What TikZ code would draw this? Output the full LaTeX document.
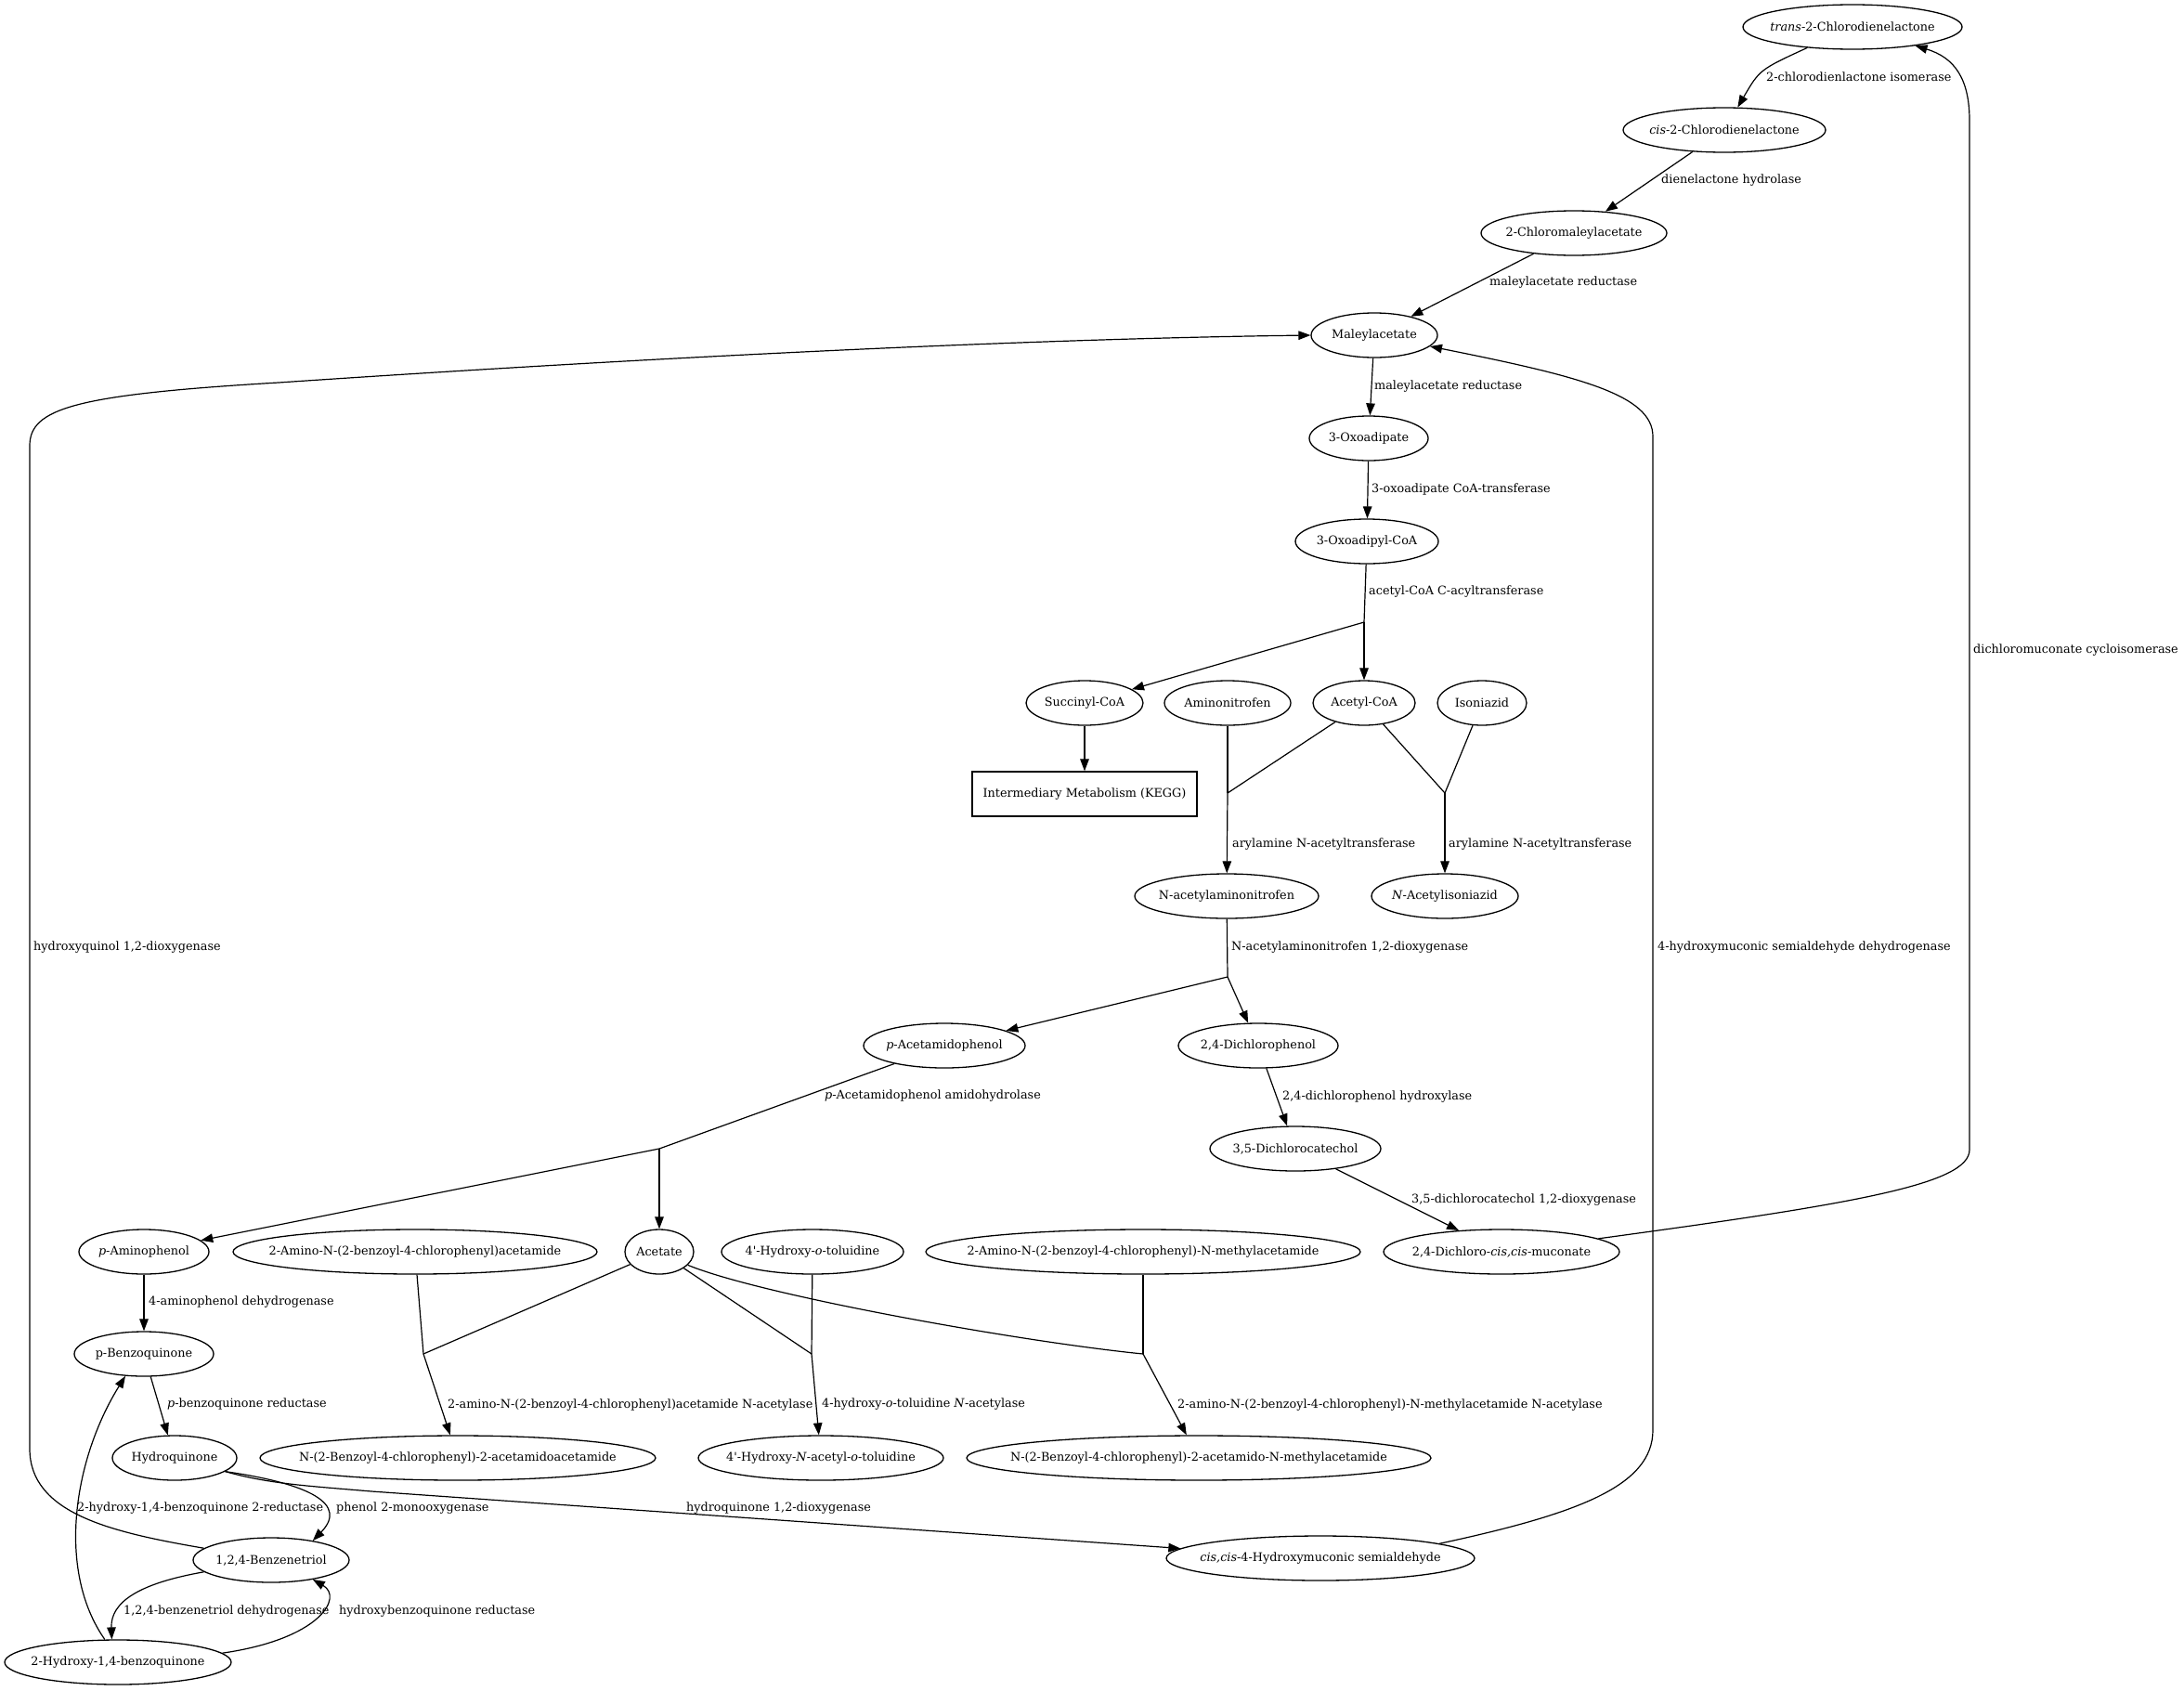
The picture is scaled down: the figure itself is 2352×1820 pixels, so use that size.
\documentclass[tikz,border=0pt]{standalone}
\usepackage{fontspec}
\setmainfont{DejaVu Serif}
\usetikzlibrary{shapes.geometric,arrows.meta}
\newcommand\ntx[1]{\makebox[0pt][c]{#1}}
\begin{document}
\begin{tikzpicture}[x=1pt,y=-1pt,
  every node/.style={font=\fontsize{12.8}{15}\selectfont},
  el/.style={ellipse,draw,line width=1.3pt,inner sep=0pt,minimum height=48pt,minimum width=#1},
  bx/.style={rectangle,draw,line width=1.3pt,inner sep=0pt,minimum height=48pt,minimum width=#1},
  lbl/.style={anchor=west,inner sep=0pt},
  ln/.style={line width=1.2pt},
  arr/.style={ln,-{Triangle[length=13pt,width=9.5pt]}},
]
\useasboundingbox[fill=white] (0,0) rectangle (2352,1820);
% nodes
\node[el=236] (tcd) at (1995,29) {\ntx{\textit{trans}-2-Chlorodienelactone}};
\node[el=218] (ccd) at (1857,140) {\ntx{\textit{cis}-2-Chlorodienelactone}};
\node[el=200] (cma) at (1695,251) {\ntx{2-Chloromaleylacetate}};
\node[el=136] (mal) at (1480,361) {\ntx{Maleylacetate}};
\node[el=128] (oxo) at (1474,472) {\ntx{3-Oxoadipate}};
\node[el=154] (ocoa) at (1472,583) {\ntx{3-Oxoadipyl-CoA}};
\node[el=126] (scoa) at (1168,757) {\ntx{Succinyl-CoA}};
\node[el=136] (amn) at (1322,757) {\ntx{Aminonitrofen}};
\node[el=110] (acoa) at (1469,757) {\ntx{Acetyl-CoA}};
\node[el=96] (iso) at (1596,757) {\ntx{Isoniazid}};
\node[bx=242] (kegg) at (1168,855) {\ntx{Intermediary Metabolism (KEGG)}};
\node[el=198] (naan) at (1321,965) {\ntx{N-acetylaminonitrofen}};
\node[el=158] (nai) at (1556,965) {\ntx{\textit{N}-Acetylisoniazid}};
\node[el=174] (pac) at (1017,1126) {\ntx{\textit{p}-Acetamidophenol}};
\node[el=172] (dcp) at (1355,1126) {\ntx{2,4-Dichlorophenol}};
\node[el=184] (dcc) at (1395,1237) {\ntx{3,5-Dichlorocatechol}};
\node[el=254] (dcm) at (1617,1348) {\ntx{2,4-Dichloro-\textit{cis,cis}-muconate}};
\node[el=140] (pam) at (155,1348) {\ntx{\textit{p}-Aminophenol}};
\node[el=392] (aba) at (447,1348) {\ntx{2-Amino-N-(2-benzoyl-4-chlorophenyl)acetamide}};
\node[el=74] (ace) at (710,1348) {\ntx{Acetate}};
\node[el=196] (hot) at (875,1348) {\ntx{4\textquotesingle-Hydroxy-\textit{o}-toluidine}};
\node[el=468] (abm) at (1231,1348) {\ntx{2-Amino-N-(2-benzoyl-4-chlorophenyl)-N-methylacetamide}};
\node[el=150] (pbq) at (155,1458) {\ntx{p-Benzoquinone}};
\node[el=426] (nba) at (493,1570) {\ntx{N-(2-Benzoyl-4-chlorophenyl)-2-acetamidoacetamide}};
\node[el=264] (hnt) at (884,1570) {\ntx{4\textquotesingle-Hydroxy-\textit{N}-acetyl-\textit{o}-toluidine}};
\node[el=500] (nbm) at (1291,1570) {\ntx{N-(2-Benzoyl-4-chlorophenyl)-2-acetamido-N-methylacetamide}};
\node[el=134] (hq) at (188,1570) {\ntx{Hydroquinone}};
\node[el=168] (bt) at (292,1680) {\ntx{1,2,4-Benzenetriol}};
\node[el=244] (hbq) at (127,1790) {\ntx{2-Hydroxy-1,4-benzoquinone}};
\node[el=332] (hms) at (1422,1678) {\ntx{\textit{cis,cis}-4-Hydroxymuconic semialdehyde}};
% junctions
\coordinate (j1) at (1469,670);
\coordinate (j2) at (1322,854);
\coordinate (j3) at (1556,854);
\coordinate (j4) at (1322,1052);
\coordinate (j5) at (710,1237);
\coordinate (j6) at (456,1458);
\coordinate (j7) at (874,1458);
\coordinate (j8) at (1231,1458);
% edges
\draw[arr] (tcd) .. controls (1895,75) .. (ccd);
\draw[arr] (ccd) -- (cma);
\draw[arr] (cma) -- (mal);
\draw[arr] (mal) -- (oxo);
\draw[arr] (oxo) -- (ocoa);
\draw[ln] (ocoa) -- (j1);
\draw[arr] (j1) -- (scoa);
\draw[arr] (j1) -- (acoa);
\draw[arr] (scoa) -- (kegg);
\draw[ln] (amn) -- (j2);
\draw[ln] (acoa) -- (j2);
\draw[arr] (j2) -- (naan);
\draw[ln] (acoa) -- (j3);
\draw[ln] (iso) -- (j3);
\draw[arr] (j3) -- (nai);
\draw[ln] (naan) -- (j4);
\draw[arr] (j4) -- (pac);
\draw[arr] (j4) -- (dcp);
\draw[arr] (dcp) -- (dcc);
\draw[arr] (dcc) -- (dcm);
\draw[arr] (dcm) .. controls (2000,1296) and (2121,1275) .. (2121,1238) -- (2121,130) .. controls (2121,85) and (2105,62) .. (tcd);
\draw[arr] (hms.7) .. controls (1700,1630) and (1780,1600) .. (1780,1540) -- (1780,470) .. controls (1780,425) and (1700,405) .. (mal);
\draw[arr] (bt.170) .. controls (120,1650) and (32,1630) .. (32,1560) -- (32,480) .. controls (32,440) and (80,425) .. (300,412) .. controls (700,385) and (1100,365) .. (mal.west);
\draw[arr] (hq.345) .. controls (290,1598) and (330,1600) .. (400,1606) -- (hms.176);
\draw[arr] (hq.345) .. controls (335,1598) and (375,1620) .. (bt.25);
\draw[arr] (hbq.120) .. controls (60,1690) and (80,1570) .. (pbq.230);
\draw[arr] (bt.190) .. controls (150,1705) and (119,1725) .. (hbq.105);
\draw[arr] (hbq.5) .. controls (345,1765) and (370,1720) .. (bt.335);
\draw[ln] (pac) -- (j5);
\draw[arr] (j5) -- (pam);
\draw[arr] (j5) -- (ace);
\draw[arr] (pam) -- (pbq);
\draw[arr] (pbq) -- (hq);
\draw[ln] (aba) -- (j6);
\draw[ln] (ace) -- (j6);
\draw[arr] (j6) -- (nba);
\draw[ln] (hot) -- (j7);
\draw[ln] (ace) -- (j7);
\draw[arr] (j7) -- (hnt);
\draw[ln] (abm) -- (j8);
\draw[ln] (ace.335) .. controls (820,1395) and (1100,1445) .. (j8);
\draw[arr] (j8) -- (nbm);
% labels
\node[lbl] (l1) at (1902,83) {2-chlorodienlactone isomerase};
\node[lbl] (l2) at (1789,194) {dienelactone hydrolase};
\node[lbl] (l3) at (1604,304) {maleylacetate reductase};
\node[lbl] (l4) at (1480,416) {maleylacetate reductase};
\node[lbl] (l5) at (1477,527) {3-oxoadipate CoA-transferase};
\node[lbl] (l6) at (1474,637) {acetyl-CoA C-acyltransferase};
\node[lbl] (l7) at (1327,909) {arylamine N-acetyltransferase};
\node[lbl] (l8) at (1560,909) {arylamine N-acetyltransferase};
\node[lbl] (l9) at (1326,1020) {N-acetylaminonitrofen 1,2-dioxygenase};
\node[lbl] (l10) at (36,1020) {hydroxyquinol 1,2-dioxygenase};
\node[lbl] (l11) at (1785,1020) {4-hydroxymuconic semialdehyde dehydrogenase};
\node[lbl] (l12) at (2125,700) {dichloromuconate cycloisomerase};
\node[lbl] (l13) at (888,1180) {\textit{p}-Acetamidophenol amidohydrolase};
\node[lbl] (l14) at (1381,1181) {2,4-dichlorophenol hydroxylase};
\node[lbl] (l15) at (1520,1292) {3,5-dichlorocatechol 1,2-dioxygenase};
\node[lbl] (l16) at (160,1402) {4-aminophenol dehydrogenase};
\node[lbl] (l17) at (180,1512) {\textit{p}-benzoquinone reductase};
\node[lbl] (l18) at (482,1513) {2-amino-N-(2-benzoyl-4-chlorophenyl)acetamide N-acetylase};
\node[lbl] (l19) at (885,1512) {4-hydroxy-\textit{o}-toluidine \textit{N}-acetylase};
\node[lbl] (l20) at (1268,1513) {2-amino-N-(2-benzoyl-4-chlorophenyl)-N-methylacetamide N-acetylase};
\node[lbl] (l21) at (83,1624) {2-hydroxy-1,4-benzoquinone 2-reductase};
\node[lbl] (l22) at (362,1624) {phenol 2-monooxygenase};
\node[lbl] (l23) at (739,1624) {hydroquinone 1,2-dioxygenase};
\node[lbl] (l24) at (133,1735) {1,2,4-benzenetriol dehydrogenase};
\node[lbl] (l25) at (365,1735) {hydroxybenzoquinone reductase};
\end{tikzpicture}
\end{document}
